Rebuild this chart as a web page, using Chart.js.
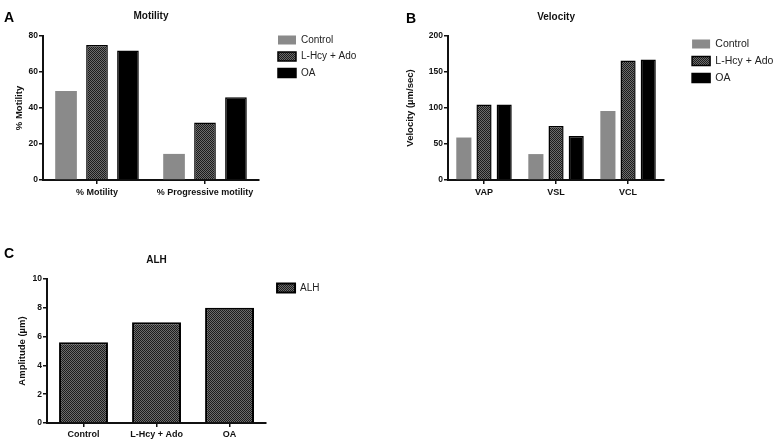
<!DOCTYPE html>
<html>
<head>
<meta charset="utf-8">
<script src="https://cdn.jsdelivr.net/npm/chart.js@4/dist/chart.umd.min.js"></script>
<style>
html, body { margin: 0; padding: 0; background: #fff; overflow: hidden; }
#page { position: relative; width: 780px; height: 446px; overflow: hidden; }
canvas { position: absolute; }
.tag { position: absolute; font: bold 14px "Liberation Sans", Arial, sans-serif; line-height: 14px; color: #000; }
</style>
</head>
<body>
<div id="page">
  <canvas id="chartA" width="390" height="210" style="left:0;top:0"></canvas>
  <canvas id="chartB" width="400" height="210" style="left:390px;top:0"></canvas>
  <canvas id="chartC" width="390" height="206" style="left:0;top:240px"></canvas>
  <div class="tag" style="left:4px;top:10px">A</div>
  <div class="tag" style="left:406px;top:11px">B</div>
  <div class="tag" style="left:4px;top:246px">C</div>
</div>
<script>
// groupes
const groups = ['Control', 'L-Hcy + Ado', 'OA'];

// A - motilite
const motilityLabels = ['% Motility', '% Progressive motility'];
const motilityControl = [49.5, 14.5];
const motilityHcy = [75, 32];
const motilityOA = [72, 46];

// B - vitesse
const velocityLabels = ['VAP', 'VSL', 'VCL'];
const velocityControl = [59, 36, 96];
const velocityHcy = [105, 75, 166];
const velocityOA = [105, 61, 167.5];

// C - ALH
const alhLabels = ['Control', 'L-Hcy + Ado', 'OA'];
const alhValues = [5.6, 7.0, 8.0];

Chart.defaults.font.family = '"Liberation Sans", Arial, sans-serif';
Chart.defaults.color = '#111';
Chart.defaults.animation = false;

function checker() {
    const c = document.createElement('canvas');
    c.width = 2; c.height = 2;
    const g = c.getContext('2d');
    g.fillStyle = '#6c6c6c'; g.fillRect(0, 0, 2, 2);
    g.fillStyle = '#1c1c1c'; g.fillRect(0, 0, 1, 1); g.fillRect(1, 1, 1, 1);
    return g.createPattern(c, 'repeat');
}
const hatch = checker();

function axisLines() {
    return {
        grid: { display: true, drawOnChartArea: false, drawTicks: true, tickLength: 4, offset: false, color: '#111', lineWidth: 1.5 },
        border: { display: true, color: '#111', width: 2 }
    };
}

function barPanel(id, labels, datasets, o) {
    return new Chart(document.getElementById(id), {
        type: 'bar',
        data: { labels: labels, datasets: datasets },
        options: {
            responsive: false,
            layout: { padding: { left: 0, top: 0, bottom: 0, right: o.padRight } },
            plugins: {
                title: {
                    display: true, text: o.title, fullSize: false, color: '#111',
                    font: { size: 10, weight: 'bold' },
                    padding: { top: o.titleTop, bottom: o.titleBottom }
                },
                legend: {
                    position: 'right', align: 'start', maxWidth: 200,
                    labels: { boxWidth: 18, boxHeight: 9, padding: 6.5, color: '#222', font: { size: o.legendSize } },
                    title: { display: true, text: ' ', font: { size: 1 }, padding: { top: o.legendTop, bottom: 0 } }
                },
                tooltip: { enabled: false }
            },
            scales: {
                x: Object.assign(axisLines(), {
                    ticks: { padding: o.xPad, maxRotation: 0, color: '#111', font: { size: 9, weight: 'bold' } },
                    afterFit: s => { s.height = o.xHeight; }
                }),
                y: Object.assign(axisLines(), {
                    min: 0, max: o.max,
                    ticks: { stepSize: o.step, padding: 1, color: '#111', font: { size: 8.5, weight: 'bold' } },
                    title: { display: true, text: o.yTitle, color: '#111', font: { size: 9.5, weight: 'bold' }, padding: { top: o.yTitlePad, bottom: 0 } },
                    afterFit: s => { s.width = o.yWidth; }
                }),
                gap: {
                    position: 'right', display: true,
                    grid: { display: false }, border: { display: false }, ticks: { display: false },
                    afterFit: s => { s.width = o.gapWidth; }
                }
            }
        }
    });
}

function groupSets(ctrl, hcy, oa, bp, cp) {
    return [
        { label: groups[0], data: ctrl, backgroundColor: '#8a8a8a', borderWidth: 0, barPercentage: bp, categoryPercentage: cp },
        { label: groups[1], data: hcy, backgroundColor: hatch, borderColor: '#000', borderWidth: 1.5, barPercentage: bp, categoryPercentage: cp },
        { label: groups[2], data: oa, backgroundColor: '#000', borderColor: '#000', borderWidth: 1.5, barPercentage: bp, categoryPercentage: cp }
    ];
}

barPanel('chartA', motilityLabels, groupSets(motilityControl, motilityHcy, motilityOA, 0.7, 0.86), {
    title: 'Motility', titleTop: 10.5, titleBottom: 13.5,
    yTitle: '% Motility', yTitlePad: 14, yWidth: 43, max: 80, step: 20,
    xHeight: 30, xPad: 3, gapWidth: 12.5, padRight: 23.7,
    legendSize: 10, legendTop: 27.3
});

barPanel('chartB', velocityLabels, groupSets(velocityControl, velocityHcy, velocityOA, 0.75, 0.84), {
    title: 'Velocity', titleTop: 11.3, titleBottom: 12.7,
    yTitle: 'Velocity (µm/sec)', yTitlePad: 15, yWidth: 58, max: 200, step: 50,
    xHeight: 30, xPad: 3, gapWidth: 21.5, padRight: 6.6,
    legendSize: 10.5, legendTop: 31
});

barPanel('chartC', alhLabels, [
    { label: 'ALH', data: alhValues, backgroundColor: hatch, borderColor: '#000', borderWidth: 2, barPercentage: 0.67, categoryPercentage: 1 }
], {
    title: 'ALH', titleTop: 14.3, titleBottom: 12.7,
    yTitle: 'Amplitude (µm)', yTitlePad: 17, yWidth: 47, max: 10, step: 2,
    xHeight: 23, xPad: 2, gapWidth: 4.5, padRight: 60.5,
    legendSize: 10, legendTop: 35.3
});
</script>
</body>
</html>
